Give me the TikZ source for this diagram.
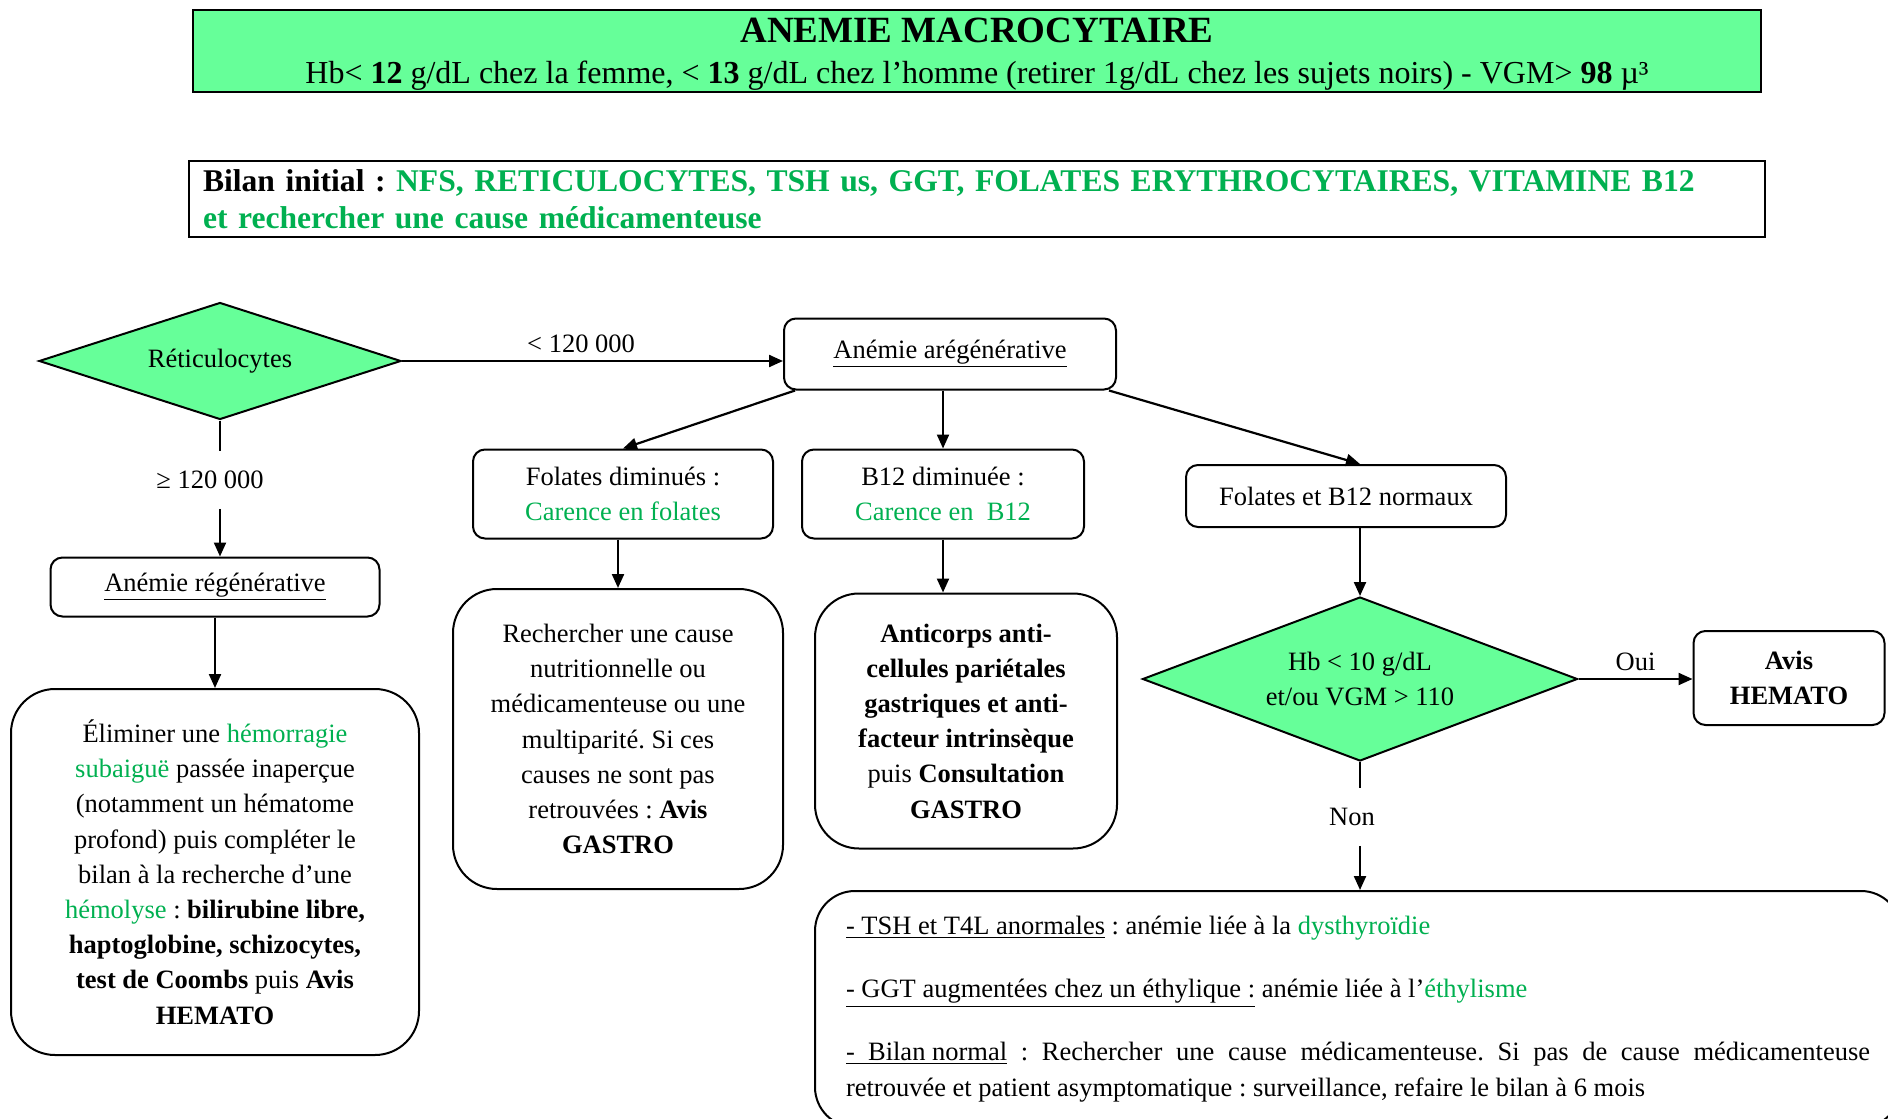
\documentclass[tikz,border=0pt]{standalone}
\usepackage{fontspec}
\setmainfont{Liberation Serif}
\usetikzlibrary{shapes.geometric,arrows.meta,positioning}
\definecolor{fillgreen}{HTML}{66FF99}
\definecolor{txtgreen}{HTML}{00B050}
\newcommand\grn[1]{\textcolor{txtgreen}{#1}}
\setlength{\parindent}{0pt}
\frenchspacing

\begin{document}
\begin{tikzpicture}[x=0.5pt,y=-0.5pt,
  		every node/.style={font=\fontsize{13.25}{17.6}\selectfont},
  		banner/.style={rectangle,draw,line width=1.2pt,fill=fillgreen,align=center,inner sep=0pt,
    		font=\fontsize{16}{20.5}\selectfont},
  		rbox/.style={rectangle,draw,line width=1pt,rounded corners=6pt,align=center,inner sep=0pt},
  		bigbox/.style={rbox,rounded corners=22pt},
  		decision/.style={diamond,draw,line width=1pt,fill=fillgreen,inner sep=0pt,align=center},
  		tag/.style={minimum height=28.5pt,inner sep=0pt},
  		arr/.style={-{Triangle[length=7pt,width=6pt]},line width=1.1pt}]
    		\useasboundingbox (0,0) rectangle (1888,1118);
    		% Header
      		\node[banner,minimum width=784pt,minimum height=41pt,text depth=0pt] (titre) at (977,51)
        		{{\fontsize{18.5}{20.5}\selectfont\bfseries ANEMIE MACROCYTAIRE}\\
         		Hb< \textbf{12} g/dL chez la femme, < \textbf{13} g/dL chez l’homme (retirer 1g/dL chez les sujets noirs) - VGM> \textbf{98} µ³};
      		\node[rectangle,draw,line width=1pt,minimum width=788pt,minimum height=38pt,text width=774pt,
        		align=left,inner xsep=7pt,inner ysep=0pt,font=\fontsize{15.8}{18.5}\selectfont\bfseries] (bilan) at (977,199)
        		{Bilan initial : \grn{NFS, RETICULOCYTES, TSH us, GGT, FOLATES ERYTHROCYTAIRES, VITAMINE B12}\\
         		\grn{et rechercher une cause médicamenteuse}};
    		% Reticulocytes
      		\node[decision,aspect=3.1,minimum width=181pt,minimum height=58.5pt] (reti) at (220,361) {Réticulocytes};
      		\node[rbox,minimum width=166pt,minimum height=35.5pt] (areg) at (950,354) {\underline{Anémie arégénérative}};
      		\node[tag] (ge) at (210,480) {≥ 120 000};
      		\node[rbox,minimum width=164.5pt,minimum height=29.5pt] (reg) at (215,587) {\underline{Anémie régénérative}};
      		\node[bigbox,minimum width=204pt,minimum height=183pt] (hemo) at (215,872)
        		{Éliminer une \grn{hémorragie}\\ \grn{subaiguë} passée inaperçue\\ (notamment un hématome\\
         		profond) puis compléter le\\ bilan à la recherche d’une\\ \grn{hémolyse} : \textbf{bilirubine libre,}\\
         		\textbf{haptoglobine, schizocytes,}\\ \textbf{test de Coombs} puis \textbf{Avis}\\ \textbf{HEMATO}};
    		% Aregenerative branches
      		\node[rbox,minimum width=150pt,minimum height=44.5pt] (fol) at (623,494) {Folates diminués :\\ \grn{Carence en folates}};
      		\node[rbox,minimum width=141pt,minimum height=44.5pt] (b12) at (943,494) {B12 diminuée :\\ \grn{Carence en \ B12}};
      		\node[rbox,minimum width=160pt,minimum height=31pt] (fnorm) at (1346,496) {Folates et B12 normaux};
      		\node[bigbox,minimum width=165pt,minimum height=150pt] (nutri) at (618,739)
        		{Rechercher une cause\\ nutritionnelle ou\\ médicamenteuse ou une\\ multiparité. Si ces\\
         		causes ne sont pas\\ retrouvées : \textbf{Avis}\\ \textbf{GASTRO}};
      		\node[bigbox,minimum width=151pt,minimum height=127.5pt] (gastro) at (966,721)
        		{\textbf{Anticorps anti-}\\ \textbf{cellules pariétales}\\ \textbf{gastriques et anti-}\\
         		\textbf{facteur intrinsèque}\\ puis \textbf{Consultation}\\ \textbf{GASTRO}};
      		\node[decision,aspect=2.65,minimum width=217.5pt,minimum height=82pt] (hb) at (1360,679) {Hb < 10 g/dL\\ et/ou VGM > 110};
      		\node[rbox,minimum width=95.5pt,minimum height=47pt,font=\fontsize{13.25}{17.6}\selectfont\bfseries] (avis) at (1789,678) {Avis\\ HEMATO};
      		\node[tag] (non) at (1352,817) {Non};
      		\node[bigbox,rounded corners=20pt,anchor=north west,text width=512pt,align=justify,
        		inner xsep=15.5pt,inner ysep=12.5pt,font=\fontsize{13.25}{18}\selectfont] (bilanfin) at (814,890)
        		{\underline{- TSH et T4L anormales} : anémie liée à la \grn{dysthyroïdie}\par\vspace{13.5pt}
         		\underline{- GGT augmentées chez un éthylique :} anémie liée à l’\grn{éthylisme}\par\vspace{13.5pt}
         		\underline{- \ Bilan normal} : Rechercher une cause médicamenteuse. Si pas de cause médicamenteuse\linebreak
         		retrouvée et patient asymptomatique : surveillance, refaire le bilan à 6 mois};
    		% Connectors
      		\draw[arr] (reti.east) -- node[above,pos=0.47] (lt) {< 120 000} (reti.east -| areg.west);
      		\draw[line width=1.1pt] (reti.south) -- (reti.south |- ge.north);
      		\draw[arr] (reti.south |- ge.south) -- (reti.south |- reg.north);
      		\draw[arr] (reg.south) -- (hemo.north);
      		\draw[arr] ([xshift=6pt]areg.south west) -- (fol.north);
      		\draw[arr] (areg.south -| b12.north) -- (b12.north);
      		\draw[arr] ([xshift=-4pt]areg.south east) -- (fnorm.north -| hb.north);
      		\draw[arr] (fol.south -| nutri.north) -- (nutri.north);
      		\draw[arr] (b12.south) -- (b12.south |- gastro.north);
      		\draw[arr] (fnorm.south -| hb.north) -- (hb.north);
      		\draw[arr] (hb.east) -- node[above] (oui) {Oui} (hb.east -| avis.west);
      		\draw[line width=1.1pt] (hb.south) -- (hb.south |- non.north);
      		\draw[arr] (hb.south |- non.south) -- (hb.south |- bilanfin.north);
\end{tikzpicture}
\end{document}
